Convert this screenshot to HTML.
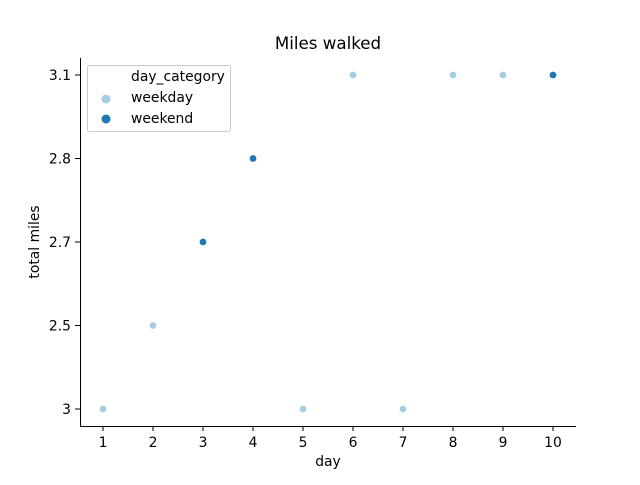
<!DOCTYPE html>
<html><head><meta charset="utf-8"><style>
body{margin:0;background:#fff}
text{font-family:"DejaVu Sans","Liberation Sans",sans-serif;fill:#000}
</style></head><body>
<svg id="c" width="640" height="480" xmlns="http://www.w3.org/2000/svg">
<rect width="640" height="480" fill="#fff"/>
<text x="328" y="49" font-size="16.67" text-anchor="middle">Miles walked</text>
<line x1="80.5" y1="58" x2="80.5" y2="426.5" stroke="#000" stroke-width="1"/>
<line x1="80" y1="426.5" x2="576" y2="426.5" stroke="#000" stroke-width="1"/>
<text x="328" y="466" font-size="13.9" text-anchor="middle">day</text>
<text x="39" y="242" font-size="13.9" text-anchor="middle" transform="rotate(-90 39 242)">total miles</text>
<g id="ticks"></g>
<g id="pts"></g>
<g>
<rect x="87.5" y="65.5" width="143" height="66" rx="2" fill="#fff" fill-opacity="0.8" stroke="#ccc"/>
<text x="131" y="81" font-size="13.9">day_category</text>
<circle cx="106" cy="99" r="4.5" fill="#a6cee3"/>
<text x="131" y="102" font-size="13.9">weekday</text>
<circle cx="106" cy="119" r="4.5" fill="#1f78b4"/>
<text x="131" y="123" font-size="13.9">weekend</text>
</g>
</svg>
<script>
const days=[1,2,3,4,5,6,7,8,9,10];
const miles=["3","2.5","2.7","2.8","3","3.1","3","3.1","3.1","3.1"];
const cats=["weekday","weekday","weekend","weekend","weekday","weekday","weekday","weekday","weekday","weekend"];
const yCats=["3","2.5","2.7","2.8","3.1"];
const xTicks=[1,2,3,4,5,6,7,8,9,10];
const colors={weekday:"#a6cee3",weekend:"#1f78b4"};
const NS="http://www.w3.org/2000/svg";
const xs=d=>103+(d-1)*50;
const ys=v=>409-yCats.indexOf(v)*83.5;
const tg=document.getElementById('ticks');
xTicks.forEach(t=>{
 const l=document.createElementNS(NS,'line');
 l.setAttribute('x1',xs(t));l.setAttribute('x2',xs(t));l.setAttribute('y1',426);l.setAttribute('y2',431);l.setAttribute('stroke','#000');
 
 
 tg.appendChild(l);
 const tx=document.createElementNS(NS,'text');
 tx.setAttribute('x',xs(t));tx.setAttribute('y',447);tx.setAttribute('font-size','13.9');tx.setAttribute('text-anchor','middle');tx.textContent=t;
 
 
 tg.appendChild(tx);
});
yCats.forEach(t=>{
 const l=document.createElementNS(NS,'line');
 l.setAttribute('x1',75);l.setAttribute('x2',80);l.setAttribute('y1',ys(t));l.setAttribute('y2',ys(t));l.setAttribute('stroke','#000');
 
 
 tg.appendChild(l);
 const tx=document.createElementNS(NS,'text');
 tx.setAttribute('x',71);tx.setAttribute('y',ys(t)+5);tx.setAttribute('font-size','13.9');tx.setAttribute('text-anchor','end');tx.textContent=t;
 
 
 tg.appendChild(tx);
});
const pg=document.getElementById('pts');
days.forEach((d,i)=>{
 const c=document.createElementNS(NS,'circle');
 c.setAttribute('cx',xs(d));c.setAttribute('cy',ys(miles[i]));c.setAttribute('r',3.8);
 c.setAttribute('fill',colors[cats[i]]);c.setAttribute('stroke','#fff');c.setAttribute('stroke-width','0.8');
 
 
 pg.appendChild(c);
});
</script>
</body></html>
